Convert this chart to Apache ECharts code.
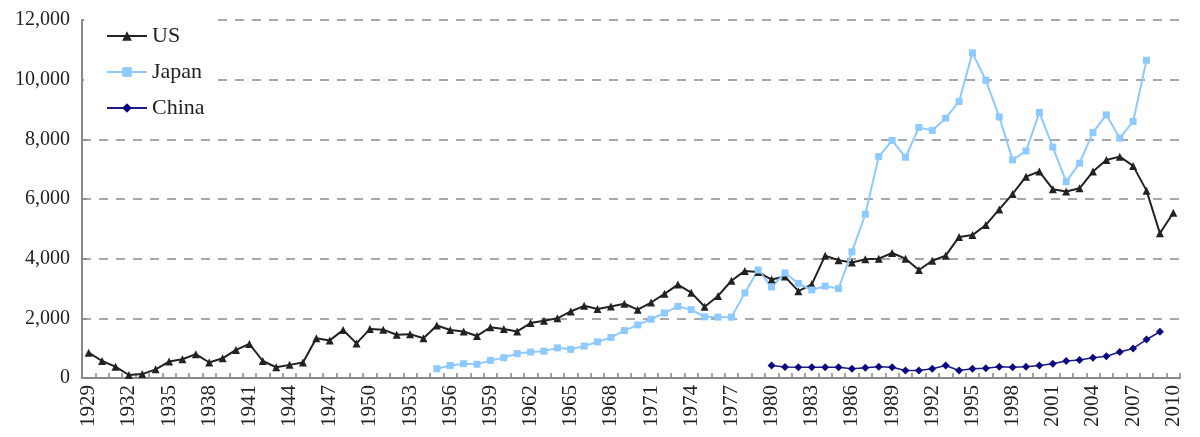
<!DOCTYPE html>
<html>
<head>
<meta charset="utf-8">
<script src="https://cdn.jsdelivr.net/npm/echarts@6/dist/echarts.min.js"></script>
<style>
html,body{margin:0;padding:0;background:#fff;}
#chart{width:1200px;height:437px;}
</style>
</head>
<body>
<div id="chart"></div>
<script>
const firstYear = 1929;
const lastYear = 2010;
const years = [];
for (let y = firstYear; y <= lastYear; y++) years.push(String(y));

const usValues = [
  850, 570, 380, 100, 130, 290, 550, 630, 800, 520,
  660, 940, 1140, 570, 360, 440, 520, 1330, 1260, 1610,
  1160, 1640, 1620, 1450, 1470, 1330, 1760, 1610, 1560, 1410,
  1700, 1640, 1560, 1840, 1920, 2000, 2230, 2420, 2310, 2400,
  2490, 2290, 2530, 2820, 3130, 2860, 2390, 2750, 3260, 3590,
  3550, 3300, 3400, 2910, 3140, 4100, 3950, 3870, 3980, 4000,
  4190, 4000, 3620, 3930, 4100, 4730, 4790, 5130, 5650, 6170,
  6750, 6920, 6330, 6250, 6360, 6920, 7310, 7420, 7110, 6280,
  4850, 5540
];

const japanStart = 1955;
const japanValues = [
  310, 420, 480, 460, 590, 680, 820, 870, 900, 1010,
  960, 1070, 1210, 1360, 1590, 1780, 1970, 2180, 2400, 2290,
  2050, 2040, 2040, 2850, 3620, 3050, 3520, 3170, 2950, 3080,
  3000, 4230, 5490, 7420, 7960, 7400, 8400, 8300, 8710, 9270,
  10900, 9980, 8750, 7310, 7610, 8900, 7740, 6580, 7200, 8230,
  8820, 8040, 8600, 10650
];

const chinaStart = 1980;
const chinaValues = [
  420, 370, 360, 360, 360, 360, 310, 340, 380, 360,
  250, 250, 310, 420, 250, 310, 330, 380, 360, 380,
  420, 480, 570, 600, 680, 730, 870, 990, 1290, 1550
];

function align(start, values) {
  return years.map(y => {
    const i = Number(y) - start;
    return (i >= 0 && i < values.length) ? values[i] : null;
  });
}

const serif = '"Liberation Serif", "Times New Roman", serif';
const chart = echarts.init(document.getElementById('chart'));
chart.setOption({
  animation: false,
  backgroundColor: '#fff',
  grid: { left: 82, right: 20, top: 20, bottom: 59, containLabel: false },
  legend: {
    orient: 'vertical',
    left: 84,
    top: 17,
    padding: [8, 8, 8, 22],
    backgroundColor: '#fff',
    itemWidth: 40,
    itemHeight: 12,
    itemGap: 14,
    textStyle: { fontFamily: serif, fontSize: 22, color: '#222', lineHeight: 22 },
    data: ['US', 'Japan', 'China']
  },
  xAxis: {
    type: 'category',
    data: years,
    boundaryGap: true,
    axisLine: { lineStyle: { color: '#888', width: 2 } },
    axisTick: { show: true, inside: true, length: 5, interval: 0, lineStyle: { color: '#888', width: 1.5 } },
    axisLabel: { interval: 2, rotate: 90, fontFamily: serif, fontSize: 21, color: '#222', margin: 7 },
    splitLine: { show: false }
  },
  yAxis: {
    type: 'value',
    min: 0,
    max: 12000,
    interval: 2000,
    axisLine: { show: true, lineStyle: { color: '#888', width: 2 } },
    axisTick: { show: true, inside: true, length: 5, lineStyle: { color: '#888', width: 1.5 } },
    axisLabel: {
      fontFamily: serif, fontSize: 20, color: '#222', margin: 12,
      formatter: v => v.toLocaleString('en-US')
    },
    splitLine: { show: true, lineStyle: { color: '#a8a8a8', width: 2, type: [9, 8] } }
  },
  series: [
    {
      name: 'US', type: 'line', data: usValues,
      symbol: 'triangle', symbolSize: 8, showAllSymbol: true,
      lineStyle: { color: '#222', width: 2 },
      itemStyle: { color: '#222' }
    },
    {
      name: 'Japan', type: 'line', data: align(japanStart, japanValues),
      symbol: 'rect', symbolSize: 7, showAllSymbol: true,
      lineStyle: { color: '#8ec9ff', width: 2 },
      itemStyle: { color: '#8ec9ff' }
    },
    {
      name: 'China', type: 'line', data: align(chinaStart, chinaValues),
      symbol: 'diamond', symbolSize: 8, showAllSymbol: true,
      lineStyle: { color: '#1a1a8c', width: 1.5 },
      itemStyle: { color: '#0a0a80' }
    }
  ]
});
</script>
</body>
</html>
